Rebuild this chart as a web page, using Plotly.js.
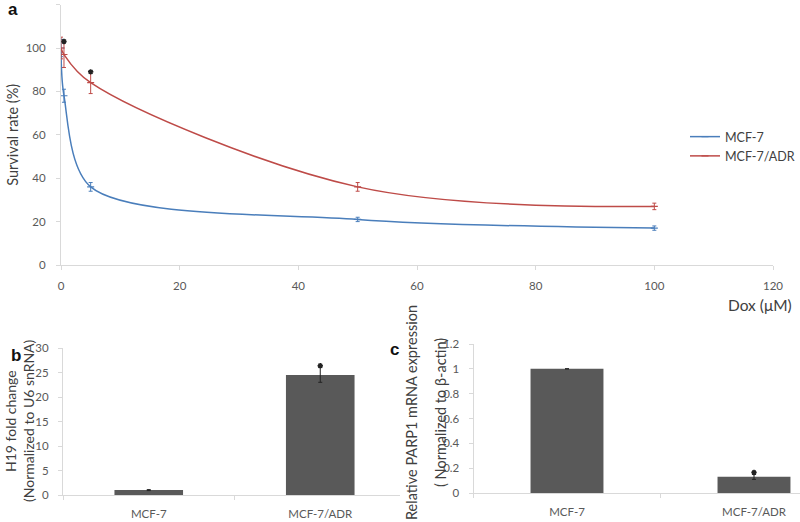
<!DOCTYPE html>
<html><head><meta charset="utf-8">
<script src="https://cdn.plot.ly/plotly-3.0.1.min.js"></script>
<style>html,body{margin:0;padding:0;background:#fff}#chart{width:800px;height:522px}</style>
</head><body><div id="chart"></div>
<script>
// ---- Panel a: survival vs doxorubicin dose ----
const doseMCF7 = [0, 0.5, 5, 50, 100];
const survMCF7 = [100, 78, 36, 21, 17];
const errMCF7 = [4, 3, 2, 1, 1];
const doseADR = [0, 0.5, 5, 50, 100];
const survADR = [100, 97, 84, 36, 27];
const errADR = [5, 6, 5, 2, 1.5];
const starDoseA = [0.5, 5];
const starSurvA = [103, 89];
const doseTicks = [0, 20, 40, 60, 80, 100, 120];
const survTicks = [0, 20, 40, 60, 80, 100, 120];

// ---- Panel b: H19 fold change ----
const cellLines = ['MCF-7', 'MCF-7/ADR'];
const h19Fold = [1, 24.5];
const h19Err = [0.1, 1.5];
const h19StarX = ['MCF-7/ADR'];
const h19StarY = [26.4];

// ---- Panel c: PARP1 mRNA ----
const parp1Rel = [1, 0.13];
const parp1Err = [null, 0.02];
const parp1StarX = ['MCF-7/ADR'];
const parp1StarY = [0.165];

const W = 800, H = 522;
const px = v => v / W;
const py = v => 1 - v / H;

const FONT = 'Lato, "Open Sans", "Liberation Sans", sans-serif';
const BLUE = '#4a7ebb', RED = '#be4b48', BAR = '#595959';
const AX = '#d9d9d9', TXT = '#595959', TITLE = '#404040';

const baseAxis = {
  showline: true, linecolor: AX, linewidth: 1,
  ticks: 'outside', ticklen: 4, tickcolor: AX, tickwidth: 1,
  showgrid: false, zeroline: false, fixedrange: true,
  tickfont: {family: FONT, size: 11.5, color: TXT}
};

const starMarker = {symbol: 'asterisk-open', size: 4.5, color: '#222', line: {color: '#222', width: 1.5}};

const traces = [
  {
    name: 'MCF-7', x: doseMCF7, y: survMCF7, xaxis: 'x', yaxis: 'y',
    type: 'scatter', mode: 'lines+markers',
    line: {color: BLUE, width: 1.5, shape: 'spline', smoothing: 0.85},
    marker: {symbol: 'line-ew-open', size: 5, color: BLUE, line: {color: BLUE, width: 1.2}},
    error_y: {type: 'data', array: errMCF7, visible: true, color: BLUE, thickness: 1, width: 2}
  },
  {
    name: 'MCF-7/ADR', x: doseADR, y: survADR, xaxis: 'x', yaxis: 'y',
    type: 'scatter', mode: 'lines+markers',
    line: {color: RED, width: 1.5, shape: 'spline', smoothing: 1.0},
    marker: {symbol: 'line-ew-open', size: 5, color: RED, line: {color: RED, width: 1.2}},
    error_y: {type: 'data', array: errADR, visible: true, color: RED, thickness: 1, width: 2}
  },
  {
    x: starDoseA, y: starSurvA, xaxis: 'x', yaxis: 'y', type: 'scatter', mode: 'markers',
    showlegend: false, hoverinfo: 'skip', marker: starMarker
  },
  {
    x: cellLines, y: h19Fold, xaxis: 'x2', yaxis: 'y2', type: 'bar', width: 0.4,
    showlegend: false, marker: {color: BAR},
    error_y: {type: 'data', array: h19Err, visible: true, color: '#222', thickness: 1, width: 2}
  },
  {
    x: h19StarX, y: h19StarY, xaxis: 'x2', yaxis: 'y2', type: 'scatter', mode: 'markers',
    showlegend: false, hoverinfo: 'skip', marker: starMarker
  },
  {
    x: cellLines, y: parp1Rel, xaxis: 'x3', yaxis: 'y3', type: 'bar', width: 0.39,
    showlegend: false, marker: {color: BAR},
    error_y: {type: 'data', array: parp1Err, visible: true, color: '#222', thickness: 1, width: 2}
  },
  {
    x: parp1StarX, y: parp1StarY, xaxis: 'x3', yaxis: 'y3', type: 'scatter', mode: 'markers',
    showlegend: false, hoverinfo: 'skip', marker: starMarker
  }
];

const ann = (text, x, y, opts) => Object.assign({
  text, x: px(x), y: py(y), xref: 'paper', yref: 'paper', showarrow: false,
  xanchor: 'center', yanchor: 'middle',
  font: {family: FONT, size: 14, color: TITLE}
}, opts || {});
const LBL = {family: 'Liberation Sans, Arial, sans-serif', size: 17, color: '#111', weight: 'bold'};

const layout = {
  width: W, height: H,
  margin: {l: 0, r: 0, t: 0, b: 0, pad: 0},
  paper_bgcolor: '#fff', plot_bgcolor: '#fff',
  font: {family: FONT, color: TXT},
  showlegend: true,
  legend: {
    x: px(685), y: py(122), xanchor: 'left', yanchor: 'top',
    font: {family: FONT, size: 12.5, color: TITLE},
    bgcolor: 'rgba(0,0,0,0)', itemwidth: 30, tracegroupgap: 0
  },
  xaxis: Object.assign({}, baseAxis, {
    domain: [px(61), px(773)], range: [0, 120], tickvals: doseTicks,
    anchor: 'y', ticklabelstandoff: 6
  }),
  yaxis: Object.assign({}, baseAxis, {
    domain: [py(265), py(4.6)], range: [0, 120], tickvals: survTicks,
    anchor: 'x', ticklabelstandoff: 8,
    title: {text: 'Survival rate (%)', font: {family: FONT, size: 14.5, color: TITLE}, standoff: 3}
  }),
  xaxis2: Object.assign({}, baseAxis, {
    domain: [px(63), px(400)], type: 'category', range: [-0.5, 1.465],
    tickson: 'boundaries', anchor: 'y2', ticklabelstandoff: 8
  }),
  yaxis2: Object.assign({}, baseAxis, {
    domain: [py(495), py(348)], range: [0, 30], dtick: 5, tick0: 0,
    anchor: 'x2', ticklabelstandoff: 7
  }),
  xaxis3: Object.assign({}, baseAxis, {
    domain: [px(473.5), 1], type: 'category', range: [-0.5, 1.246],
    tickson: 'boundaries', anchor: 'y3', ticklabelstandoff: 8
  }),
  yaxis3: Object.assign({}, baseAxis, {
    domain: [py(493), py(344)], range: [0, 1.2], dtick: 0.2, tick0: 0,
    anchor: 'x3', ticklabelstandoff: 7
  }),
  annotations: [
    ann('a', 12.5, 9, {font: LBL}),
    ann('b', 16, 355, {font: LBL}),
    ann('c', 394, 349, {font: LBL}),
    ann('Dox (μM)', 794, 305, {xanchor: 'right', font: {family: FONT, size: 15.5, color: TITLE}}),
    ann('H19 fold change', 10, 421, {textangle: -90}),
    ann('(Normalized to U6 snRNA)', 28, 421, {textangle: -90}),
    ann('Relative PARP1 mRNA expression', 411, 413, {textangle: -90, font: {family: FONT, size: 14.5, color: TITLE}}),
    ann('( Normalized to β-actin)', 440, 413, {textangle: -90, font: {family: FONT, size: 14.5, color: TITLE}})
  ]
};

Plotly.newPlot('chart', traces, layout, {staticPlot: true, displayModeBar: false});
</script>
</body></html>
